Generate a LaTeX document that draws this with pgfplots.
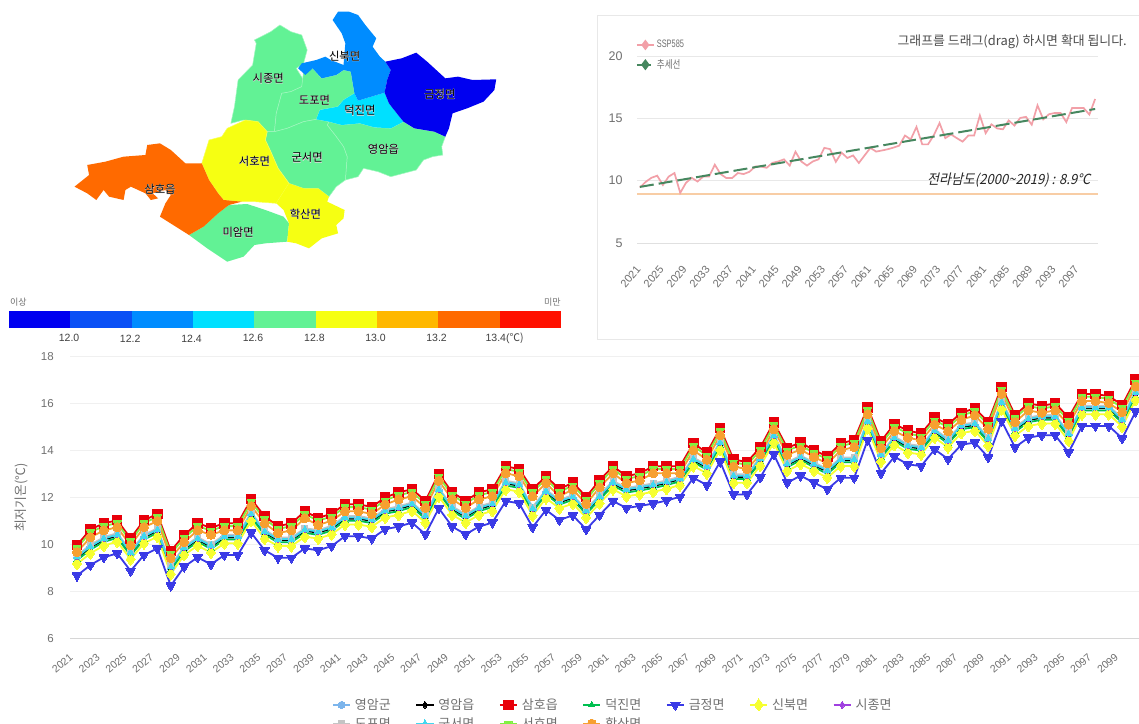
\documentclass[border=0pt]{standalone}
\usepackage{fontspec}
\setmainfont{Liberation Sans}
\newfontfamily\kr{Noto Sans CJK KR}
\newfontfamily\krh[FakeBold=3.2]{Noto Sans CJK KR}
\newfontfamily\krit[FakeSlant=0.22,FakeStretch=0.93]{Noto Sans CJK KR}
\usepackage{pgfplots}
\usepackage{pgfplotstable}
\pgfplotsset{compat=1.18}
\definecolor{cA}{HTML}{7CB5EC}
\definecolor{cE}{HTML}{000000}
\definecolor{cR}{HTML}{E8000A}
\definecolor{cD}{HTML}{00C050}
\definecolor{cB}{HTML}{3A3AE6}
\definecolor{cS}{HTML}{F6FF30}
\definecolor{cJ}{HTML}{A040E0}
\definecolor{cP}{HTML}{C4C4C4}
\definecolor{cG}{HTML}{40D8F0}
\definecolor{cH}{HTML}{80F040}
\definecolor{cK}{HTML}{F7A030}
\definecolor{tx}{HTML}{707070}
\definecolor{mg}{HTML}{62F295}
\definecolor{my}{HTML}{F6FF12}
\definecolor{mo}{HTML}{FF6A00}
\definecolor{mc}{HTML}{00E0FF}
\definecolor{mb}{HTML}{008CFF}
\definecolor{md}{HTML}{0000F0}
\definecolor{s2}{HTML}{0A50F5}
\definecolor{s7}{HTML}{FFB800}
\definecolor{s9}{HTML}{FF1000}
\newcommand{\mapl}[1]{\fontsize{11.3}{12}\selectfont\rlap{\krh\textcolor{white!85!black}{#1}}\kr #1}
\pgfplotstableread{
Y A E R D B S J P G H K
2021 9.45 9.42 9.97 9.33 8.67 9.17 9.49 9.53 9.47 9.85 9.67
2022 9.90 9.87 10.64 9.78 9.12 9.62 9.94 9.98 9.92 10.52 10.30
2023 10.23 10.20 10.90 10.11 9.45 9.95 10.27 10.31 10.25 10.78 10.60
2024 10.40 10.37 11.03 10.28 9.62 10.12 10.44 10.48 10.42 10.91 10.73
2025 9.65 9.62 10.26 9.53 8.87 9.37 9.69 9.73 9.67 10.14 9.96
2026 10.33 10.30 11.03 10.21 9.55 10.05 10.37 10.41 10.35 10.91 10.73
2027 10.61 10.58 11.30 10.49 9.83 10.33 10.65 10.69 10.63 11.18 11.00
2028 9.02 8.99 9.72 8.90 8.24 8.74 9.06 9.10 9.04 9.60 9.42
2029 9.83 9.80 10.40 9.71 9.05 9.55 9.87 9.91 9.85 10.28 10.10
2030 10.23 10.20 10.90 10.11 9.45 9.95 10.27 10.31 10.25 10.78 10.60
2031 9.93 9.90 10.71 9.81 9.15 9.65 9.97 10.01 9.95 10.59 10.41
2032 10.33 10.30 10.90 10.21 9.55 10.05 10.37 10.41 10.35 10.78 10.60
2033 10.33 10.30 10.90 10.21 9.55 10.05 10.37 10.41 10.35 10.78 10.60
2034 11.28 11.25 11.93 11.16 10.50 11.00 11.32 11.36 11.30 11.81 11.63
2035 10.53 10.50 11.20 10.41 9.75 10.25 10.57 10.61 10.55 11.08 10.90
2036 10.21 10.18 10.78 10.09 9.43 9.93 10.25 10.29 10.23 10.66 10.48
2037 10.21 10.18 10.90 10.09 9.43 9.93 10.25 10.29 10.23 10.78 10.60
2038 10.61 10.58 11.41 10.49 9.83 10.33 10.65 10.69 10.63 11.29 11.11
2039 10.53 10.50 11.13 10.41 9.75 10.25 10.57 10.61 10.55 11.01 10.83
2040 10.71 10.68 11.31 10.59 9.93 10.43 10.75 10.79 10.73 11.19 11.01
2041 11.13 11.10 11.71 11.01 10.35 10.85 11.17 11.21 11.15 11.59 11.41
2042 11.13 11.10 11.71 11.01 10.35 10.85 11.17 11.21 11.15 11.59 11.41
2043 11.03 11.00 11.60 10.91 10.25 10.75 11.07 11.11 11.05 11.48 11.30
2044 11.43 11.40 12.00 11.31 10.65 11.15 11.47 11.51 11.45 11.88 11.70
2045 11.54 11.51 12.22 11.42 10.76 11.26 11.58 11.62 11.56 12.10 11.92
2046 11.71 11.68 12.35 11.59 10.93 11.43 11.75 11.79 11.73 12.23 12.05
2047 11.21 11.18 11.86 11.09 10.43 10.93 11.25 11.29 11.23 11.74 11.56
2048 12.32 12.29 13.01 12.20 11.54 12.04 12.36 12.40 12.34 12.89 12.71
2049 11.54 11.51 12.22 11.42 10.76 11.26 11.58 11.62 11.56 12.10 11.92
2050 11.21 11.18 11.86 11.09 10.43 10.93 11.25 11.29 11.23 11.74 11.56
2051 11.54 11.51 12.22 11.42 10.76 11.26 11.58 11.62 11.56 12.10 11.92
2052 11.71 11.68 12.35 11.59 10.93 11.43 11.75 11.79 11.73 12.23 12.05
2053 12.63 12.60 13.33 12.51 11.85 12.35 12.67 12.71 12.65 13.21 13.03
2054 12.53 12.50 13.21 12.41 11.75 12.25 12.57 12.61 12.55 13.09 12.91
2055 11.51 11.48 12.35 11.39 10.73 11.23 11.55 11.59 11.53 12.23 12.05
2056 12.25 12.22 12.91 12.13 11.47 11.97 12.29 12.33 12.27 12.79 12.61
2057 11.82 11.79 12.35 11.70 11.04 11.54 11.86 11.90 11.84 12.23 12.05
2058 12.02 11.99 12.64 11.90 11.24 11.74 12.06 12.10 12.04 12.52 12.34
2059 11.42 11.39 12.03 11.30 10.64 11.14 11.46 11.50 11.44 11.91 11.73
2060 12.03 12.00 12.73 11.91 11.25 11.75 12.07 12.11 12.05 12.61 12.43
2061 12.63 12.60 13.33 12.51 11.85 12.35 12.67 12.71 12.65 13.21 13.03
2062 12.33 12.30 12.91 12.21 11.55 12.05 12.37 12.41 12.35 12.79 12.61
2063 12.42 12.39 13.03 12.30 11.64 12.14 12.46 12.50 12.44 12.91 12.73
2064 12.52 12.49 13.33 12.40 11.74 12.24 12.56 12.60 12.54 13.21 13.03
2065 12.65 12.62 13.33 12.53 11.87 12.37 12.69 12.73 12.67 13.21 13.03
2066 12.81 12.78 13.33 12.69 12.03 12.53 12.85 12.89 12.83 13.21 13.03
2067 13.62 13.59 14.31 13.50 12.84 13.34 13.66 13.70 13.64 14.19 14.01
2068 13.31 13.28 13.91 13.19 12.53 13.03 13.35 13.39 13.33 13.79 13.61
2069 14.31 14.28 14.95 14.19 13.53 14.03 14.35 14.39 14.33 14.83 14.65
2070 12.91 12.88 13.62 12.79 12.13 12.63 12.95 12.99 12.93 13.50 13.32
2071 12.91 12.88 13.51 12.79 12.13 12.63 12.95 12.99 12.93 13.39 13.21
2072 13.64 13.61 14.14 13.52 12.86 13.36 13.68 13.72 13.66 14.02 13.84
2073 14.62 14.59 15.20 14.50 13.84 14.34 14.66 14.70 14.64 15.08 14.90
2074 13.41 13.38 14.12 13.29 12.63 13.13 13.45 13.49 13.43 14.00 13.82
2075 13.71 13.68 14.34 13.59 12.93 13.43 13.75 13.79 13.73 14.22 14.04
2076 13.41 13.38 14.02 13.29 12.63 13.13 13.45 13.49 13.43 13.90 13.72
2077 13.13 13.10 13.75 13.01 12.35 12.85 13.17 13.21 13.15 13.63 13.45
2078 13.62 13.59 14.31 13.50 12.84 13.34 13.66 13.70 13.64 14.19 14.01
2079 13.62 13.59 14.45 13.50 12.84 13.34 13.66 13.70 13.64 14.33 14.15
2080 15.23 15.20 15.84 15.11 14.45 14.95 15.27 15.31 15.25 15.72 15.54
2081 13.81 13.78 14.40 13.69 13.03 13.53 13.85 13.89 13.83 14.28 14.10
2082 14.52 14.49 15.13 14.40 13.74 14.24 14.56 14.60 14.54 15.01 14.83
2083 14.19 14.16 14.85 14.07 13.41 13.91 14.23 14.27 14.21 14.73 14.55
2084 14.12 14.09 14.73 14.00 13.34 13.84 14.16 14.20 14.14 14.61 14.43
2085 14.83 14.80 15.41 14.71 14.05 14.55 14.87 14.91 14.85 15.29 15.11
2086 14.42 14.39 15.12 14.30 13.64 14.14 14.46 14.50 14.44 15.00 14.82
2087 15.03 15.00 15.61 14.91 14.25 14.75 15.07 15.11 15.05 15.49 15.31
2088 15.12 15.09 15.80 15.00 14.34 14.84 15.16 15.20 15.14 15.68 15.50
2089 14.49 14.46 15.22 14.37 13.71 14.21 14.53 14.57 14.51 15.10 14.92
2090 16.04 16.01 16.72 15.92 15.26 15.76 16.08 16.12 16.06 16.60 16.42
2091 14.92 14.89 15.51 14.80 14.14 14.64 14.96 15.00 14.94 15.39 15.21
2092 15.33 15.30 16.01 15.21 14.55 15.05 15.37 15.41 15.35 15.89 15.71
2093 15.43 15.40 15.91 15.31 14.65 15.15 15.47 15.51 15.45 15.79 15.61
2094 15.43 15.40 16.01 15.31 14.65 15.15 15.47 15.51 15.45 15.89 15.71
2095 14.70 14.67 15.41 14.58 13.92 14.42 14.74 14.78 14.72 15.29 15.11
2096 15.83 15.80 16.41 15.71 15.05 15.55 15.87 15.91 15.85 16.29 16.11
2097 15.83 15.80 16.41 15.71 15.05 15.55 15.87 15.91 15.85 16.29 16.11
2098 15.83 15.80 16.32 15.71 15.05 15.55 15.87 15.91 15.85 16.20 16.02
2099 15.30 15.27 15.94 15.18 14.52 15.02 15.34 15.38 15.32 15.82 15.64
2100 16.55 16.41 17.03 16.32 15.66 16.16 16.48 16.52 16.46 16.91 16.73
}\data
\begin{document}
\begin{tikzpicture}[x=1pt,y=1pt]
\useasboundingbox (0,0) rectangle (1139,723);
\clip (0,0) rectangle (1139,723);
\fill[white] (0,0) rectangle (1139,723);
\draw[color=black!9,line width=.9pt] (597,708) rectangle (1150,384);
% ---------- map and colour scale
\begin{axis}[at={(0pt,373pt)},anchor=south west,scale only axis,width=570pt,height=350pt,
 xmin=0,xmax=1568,ymin=0,ymax=1050,y dir=reverse,hide axis,clip=false]
\addplot[fill=mg,draw=mg!60!white,line width=.5pt] coordinates {(700,120)(745,95)(770,75)(800,95)(830,105)(845,150)(835,190)(815,205)(835,240)(830,260)(800,275)(775,280)(760,340)(755,395)(735,395)(700,365)(670,360)(635,370)(645,320)(655,240)(695,195)(705,130)} -- cycle;
\addplot[fill=mg,draw=mg!60!white,line width=.5pt] coordinates {(835,215)(860,205)(885,235)(925,225)(945,210)(965,215)(975,280)(945,300)(930,320)(880,330)(870,358)(835,365)(790,385)(755,395)(760,340)(775,280)(800,275)(830,260)} -- cycle;
\addplot[fill=mg,draw=mg!60!white,line width=.5pt] coordinates {(905,365)(940,375)(990,370)(1030,382)(1075,385)(1110,365)(1140,385)(1195,395)(1225,410)(1215,440)(1218,465)(1190,470)(1165,480)(1145,510)(1110,520)(1075,530)(1040,515)(1000,505)(985,530)(950,540)(955,470)(945,440)(925,410)(900,375)} -- cycle;
\addplot[fill=mg,draw=mg!60!white,line width=.5pt] coordinates {(735,395)(755,395)(790,385)(835,365)(870,358)(905,365)(900,375)(925,410)(945,440)(955,470)(950,540)(925,560)(905,590)(875,565)(835,565)(795,550)(765,505)(745,455)(730,420)} -- cycle;
\addplot[fill=mg,draw=none] coordinates {(520,705)(560,680)(600,640)(630,615)(680,612)(730,630)(780,650)(795,670)(790,725)(730,730)(700,735)(670,770)(625,785)(570,745)} -- cycle;
\addplot[fill=my,draw=my!70!white,line width=.5pt] coordinates {(625,385)(675,360)(710,365)(735,395)(730,420)(745,455)(765,505)(795,550)(760,610)(700,605)(665,605)(615,600)(600,580)(575,540)(555,490)(575,420)(610,410)} -- cycle;
\addplot[fill=my,draw=none] coordinates {(795,550)(835,565)(875,565)(905,590)(900,605)(948,630)(945,655)(925,675)(930,700)(885,715)(850,745)(815,730)(790,725)(795,670)(780,630)(760,610)} -- cycle;
\addplot[fill=mo,draw=none] coordinates {(205,560)(245,525)(240,495)(290,485)(340,470)(400,465)(405,435)(440,430)(470,450)(510,490)(555,490)(575,540)(600,580)(615,600)(665,605)(630,615)(600,640)(560,680)(520,705)(440,650)(455,610)(470,585)(455,570)(420,580)(435,595)(415,600)(400,580)(360,560)(345,570)(340,600)(300,590)(285,570)(265,600)(240,580)} -- cycle;
\addplot[fill=mc,draw=none] coordinates {(870,358)(880,330)(930,320)(945,300)(975,280)(985,302)(1058,278)(1070,310)(1095,345)(1110,365)(1075,385)(1030,382)(990,370)(940,375)(905,365)} -- cycle;
\addplot[fill=mb,draw=none] coordinates {(915,60)(930,35)(960,35)(985,45)(1005,75)(1035,115)(1025,140)(1045,170)(1060,185)(1075,210)(1065,240)(1058,278)(985,302)(975,280)(965,215)(945,210)(925,225)(885,235)(860,205)(840,225)(820,205)(830,190)(870,180)(895,170)(910,180)(945,195)(950,130)(940,100)} -- cycle;
\addplot[fill=md,draw=none] coordinates {(1060,185)(1105,175)(1145,158)(1175,185)(1200,210)(1225,235)(1260,230)(1300,240)(1365,238)(1360,270)(1330,305)(1285,325)(1245,340)(1235,385)(1225,410)(1195,395)(1140,385)(1110,365)(1095,345)(1070,310)(1058,278)(1065,240)(1075,210)} -- cycle;
\addplot[fill=md,draw=none] coordinates {(25,932)(193.7,932)(193.7,985)(25,985)} -- cycle;
\addplot[fill=s2,draw=none] coordinates {(193.7,932)(362.3,932)(362.3,985)(193.7,985)} -- cycle;
\addplot[fill=mb,draw=none] coordinates {(362.3,932)(531,932)(531,985)(362.3,985)} -- cycle;
\addplot[fill=mc,draw=none] coordinates {(531,932)(699.7,932)(699.7,985)(531,985)} -- cycle;
\addplot[fill=mg,draw=none] coordinates {(699.7,932)(868.3,932)(868.3,985)(699.7,985)} -- cycle;
\addplot[fill=my,draw=none] coordinates {(868.3,932)(1037,932)(1037,985)(868.3,985)} -- cycle;
\addplot[fill=s7,draw=none] coordinates {(1037,932)(1205.7,932)(1205.7,985)(1037,985)} -- cycle;
\addplot[fill=mo,draw=none] coordinates {(1205.7,932)(1374.3,932)(1374.3,985)(1205.7,985)} -- cycle;
\addplot[fill=s9,draw=none] coordinates {(1374.3,932)(1543,932)(1543,985)(1374.3,985)} -- cycle;
\node[inner sep=0] at (948,168) {\mapl{신북면}};
\node[inner sep=0] at (738,235) {\mapl{시종면}};
\node[inner sep=0] at (865,300) {\mapl{도포면}};
\node[inner sep=0] at (990,332) {\mapl{덕진면}};
\node[inner sep=0] at (1210,282) {\mapl{금정면}};
\node[inner sep=0] at (1055,447) {\mapl{영암읍}};
\node[inner sep=0] at (845,473) {\mapl{군서면}};
\node[inner sep=0] at (700,483) {\mapl{서호면}};
\node[inner sep=0] at (440,567) {\mapl{삼호읍}};
\node[inner sep=0] at (840,642) {\mapl{학산면}};
\node[inner sep=0] at (655,697) {\mapl{미암면}};
\node[font=\fontsize{10.5}{12}\selectfont,text=black!75,inner sep=0] at (190,1015) {12.0};
\node[font=\fontsize{10.5}{12}\selectfont,text=black!75,inner sep=0] at (358,1015) {12.2};
\node[font=\fontsize{10.5}{12}\selectfont,text=black!75,inner sep=0] at (527,1015) {12.4};
\node[font=\fontsize{10.5}{12}\selectfont,text=black!75,inner sep=0] at (696,1015) {12.6};
\node[font=\fontsize{10.5}{12}\selectfont,text=black!75,inner sep=0] at (865,1015) {12.8};
\node[font=\fontsize{10.5}{12}\selectfont,text=black!75,inner sep=0] at (1033,1015) {13.0};
\node[font=\fontsize{10.5}{12}\selectfont,text=black!75,inner sep=0] at (1201,1015) {13.2};
\node[font=\fontsize{10.5}{12}\selectfont,text=black!75,inner sep=0] at (1388,1015) {13.4(\kr ℃)};
\node[font=\kr\fontsize{9}{10}\selectfont,text=tx,inner sep=0,anchor=west] at (27,906) {이상};
\node[font=\kr\fontsize{9}{10}\selectfont,text=tx,inner sep=0,anchor=east] at (1543,906) {미만};
\end{axis}
% ---------- upper right chart
\begin{axis}[at={(637pt,480pt)},anchor=south west,scale only axis,width=461pt,height=187pt,
 xmin=2020.5,xmax=2100.5,ymin=5,ymax=20,
 axis line style={draw=none},major tick length=0pt,
 xtick={2021,2025,...,2097},ytick={5,10,15,20},
 ymajorgrids,grid style={black!9,line width=.8pt},
 /pgf/number format/assume math mode=true,
 /pgf/number format/1000 sep={},
 xticklabel style={rotate=50,anchor=north east,font=\fontsize{11}{12}\selectfont,text=tx,yshift=-7pt,xshift=-16pt},
 yticklabel style={font=\fontsize{12.5}{13}\selectfont,text=tx,xshift=-11pt},
 clip=false,
 legend style={at={(axis description cs:-0.003,1.095)},anchor=north west,draw=none,fill=none,inner sep=0pt,row sep=6pt,
   font=\fontsize{9}{10}\selectfont,text=tx,nodes={inner xsep=2pt}},
 legend image post style={mark=diamond*,mark size=4pt,mark options={solid}},
 legend cell align=left]
\addplot[color=black!12,line width=.8pt,forget plot] coordinates {(2020.5,5)(2100.5,5)};
\addplot[color={rgb,255:red,248;green,205;blue,165},line width=1.8pt,forget plot] coordinates {(2020.5,8.93)(2100.5,8.93)};
\addplot[color={rgb,255:red,242;green,160;blue,168},line width=1.7pt,mark=none] table[x=Y,y=A] {\data};
\addlegendentry{\scalebox{0.82}[1.2]{SSP585}}
\addplot[color={rgb,255:red,70;green,135;blue,95},line width=2pt,dash pattern=on 14pt off 5pt] coordinates {(2021,9.5)(2100,15.75)};
\addlegendentry{\scalebox{0.95}[1.2]{\kr 추세선}}
\node[font=\krit\fontsize{14}{14}\selectfont,text=black!85,anchor=east,inner sep=0] at (2099.2,10.05) {전라남도(2000\textasciitilde 2019) : 8.9℃};
\end{axis}
\node[font=\kr\fontsize{12.9}{13}\selectfont,text=black!70,anchor=east,inner sep=0] at (1127,681) {그래프를 드래그(drag) 하시면 확대 됩니다.};
% ---------- main chart
\begin{axis}[at={(70.3pt,84.7pt)},anchor=south west,scale only axis,width=1068.7pt,height=281.6pt,
 xmin=2020.5,xmax=2100.25,ymin=6,ymax=18,
 axis line style={draw=none},major tick length=0pt,
 xtick={2021,2023,...,2099},ytick={6,8,...,18},
 ymajorgrids,grid style={black!6,line width=.8pt},
 /pgf/number format/assume math mode=true,
 /pgf/number format/1000 sep={},
 xticklabel style={rotate=40,anchor=north east,font=\fontsize{10.5}{12}\selectfont,text=tx,yshift=-2.5pt,xshift=-12pt},
 yticklabel style={font=\fontsize{11.5}{12}\selectfont,text=tx,xshift=-13pt},
 ylabel={\kr 최저기온(℃)},ylabel style={font=\fontsize{12.8}{13}\selectfont,text=tx,at={(axis description cs:-0.036,0.5)},anchor=south},
 clip=false,
 legend columns=7,
 legend style={at={(axis description cs:0.2448,-0.214)},anchor=north west,draw=none,fill=none,inner sep=0pt,row sep=6.5pt,
   font=\kr\fontsize{13}{14}\selectfont,text=tx,nodes={inner xsep=4pt,inner ysep=0pt},
   /tikz/every even column/.append style={column sep=20.7pt}},
 legend cell align=left]
\addplot[color=black!16,line width=1pt,forget plot] coordinates {(2020.5,6)(2100.25,6)};
\addplot[cA,line width=1.8pt,mark=*,mark size=3.5pt,mark options={line width=0pt}] table[x=Y,y=A] {\data};
\addplot[cE,line width=1.8pt,mark=diamond*,mark size=3.5pt,mark options={line width=0pt}] table[x=Y,y=E] {\data};
\addplot[cR,line width=1.8pt,mark=square*,mark size=4.7pt,mark options={line width=0pt}] table[x=Y,y=R] {\data};
\addplot[cD,line width=1.8pt,mark=triangle*,mark size=3.5pt,mark options={line width=0pt}] table[x=Y,y=D] {\data};
\addplot[cB,line width=1.8pt,mark=triangle*,mark options={rotate=180,line width=0pt},mark size=5.5pt] table[x=Y,y=B] {\data};
\addplot[cS,line width=1.8pt,mark=diamond*,mark size=6pt,mark options={line width=0pt}] table[x=Y,y=S] {\data};
\addplot[cJ,line width=1.8pt,mark=diamond*,mark size=3.5pt,mark options={line width=0pt}] table[x=Y,y=J] {\data};
\addplot[cP,line width=1.8pt,mark=square*,mark size=3pt,mark options={line width=0pt}] table[x=Y,y=P] {\data};
\addplot[cG,line width=1.8pt,mark=triangle*,mark size=4pt,mark options={line width=0pt}] table[x=Y,y=G] {\data};
\addplot[cH,line width=1.8pt,mark=triangle*,mark options={rotate=180,line width=0pt},mark size=4.5pt] table[x=Y,y=H] {\data};
\addplot[cK,line width=1.8pt,mark=*,mark size=4.5pt,mark options={line width=0pt}] table[x=Y,y=K] {\data};
\legend{영암군,영암읍,삼호읍,덕진면,금정면,신북면,시종면,도포면,군서면,서호면,학산면}
\end{axis}
\end{tikzpicture}
\end{document}
